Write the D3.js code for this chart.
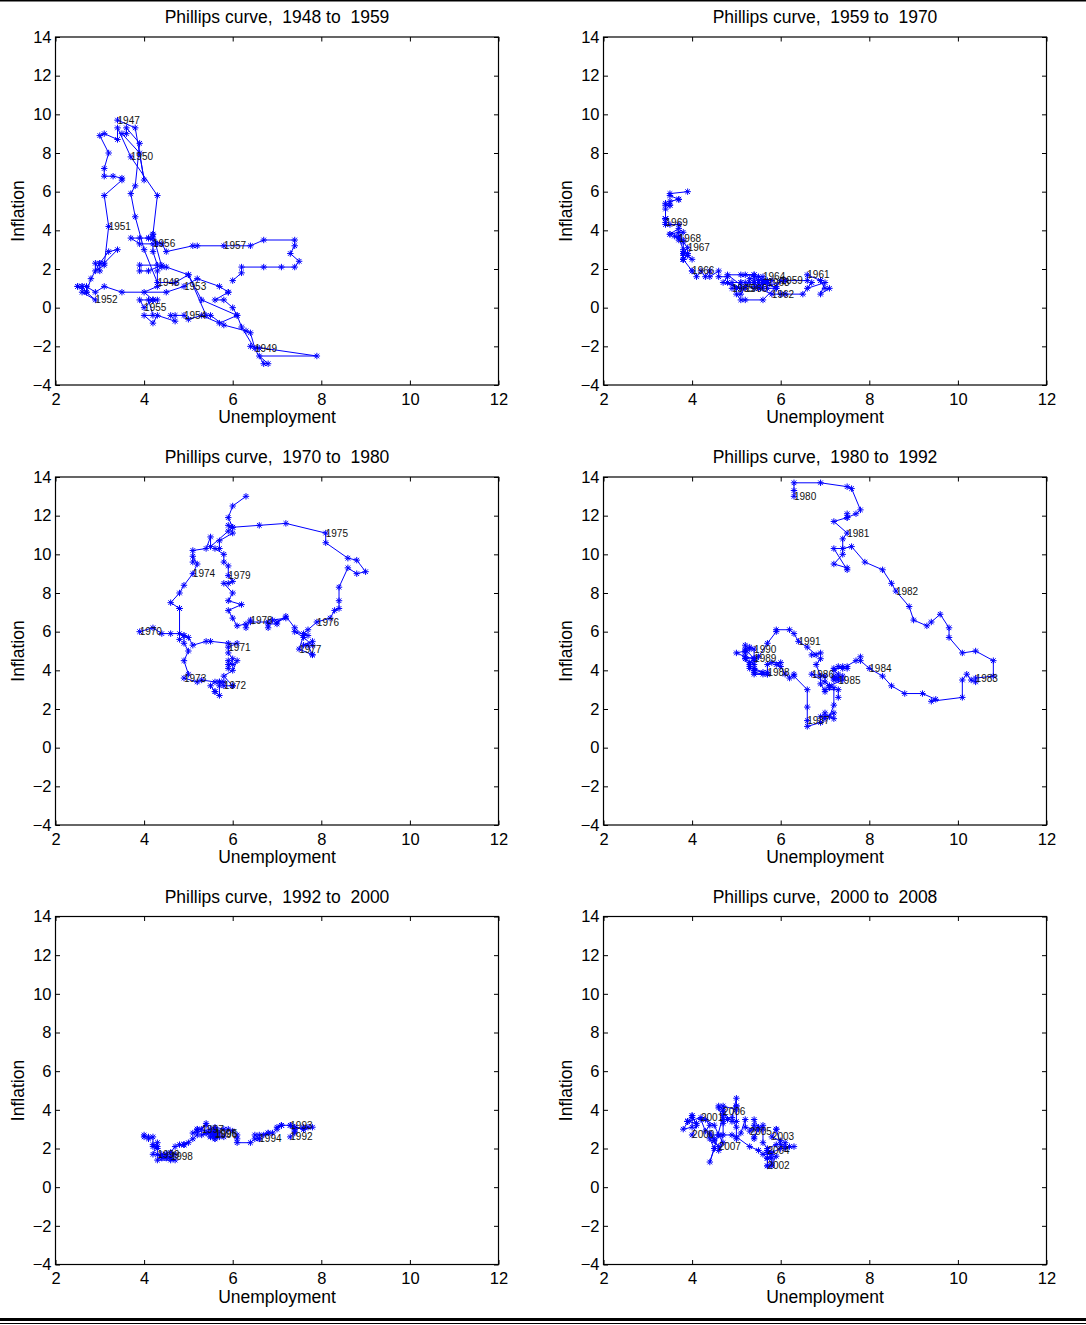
<!DOCTYPE html>
<html lang="en">
  <head>
    <meta charset="UTF-8" />
    <title>Phillips curve</title>
    <script src="https://d3js.org/d3.v7.min.js"></script>
    <style>
      * {
        margin: 0;
        padding: 0;
      }
      body {
        background: #fff;
      }
      svg {
        display: block;
        font-family: "Liberation Sans", Arial, Helvetica, sans-serif;
      }
    </style>
  </head>

  <body>
    <div id="chart"></div>
    <script>
      // tick labels and titles
      const xTicks = [2, 4, 6, 8, 10, 12];
      const yTicks = [-4, -2, 0, 2, 4, 6, 8, 10, 12, 14];
      const titles = [
        "Phillips curve,  1948 to  1959",
        "Phillips curve,  1959 to  1970",
        "Phillips curve,  1970 to  1980",
        "Phillips curve,  1980 to  1992",
        "Phillips curve,  1992 to  2000",
        "Phillips curve,  2000 to  2008",
      ];

      // monthly unemployment (x) and inflation (y)
      const unemp1948 = [
        3.4, 3.8, 4.0, 3.9, 3.5, 3.6, 3.6, 3.9, 3.8, 3.7, 3.8, 4.0,
        4.3, 4.7, 5.0, 5.3, 6.1, 6.2, 6.7, 6.8, 6.6, 7.9, 6.4, 6.6,
        6.5, 6.4, 6.3, 5.8, 5.5, 5.4, 5.0, 4.5, 4.4, 4.2, 4.2, 4.3,
        3.7, 3.4, 3.4, 3.1, 3.0, 3.2, 3.1, 3.1, 3.3, 3.5, 3.5, 3.1,
        3.2, 3.1, 2.9, 2.9, 3.0, 3.0, 3.2, 3.4, 3.1, 3.0, 2.8, 2.7,
        2.9, 2.6, 2.6, 2.7, 2.5, 2.5, 2.6, 2.7, 2.9, 3.1, 3.5, 4.5,
        4.9, 5.2, 5.7, 5.9, 5.9, 5.6, 5.8, 6.0, 6.1, 5.7, 5.3, 5.0,
        4.9, 4.7, 4.6, 4.7, 4.3, 4.2, 4.0, 4.2, 4.1, 4.3, 4.2, 4.2,
        4.0, 3.9, 4.2, 4.0, 4.3, 4.3, 4.4, 4.1, 3.9, 3.9, 4.3, 4.2,
        4.2, 3.9, 3.7, 3.9, 4.1, 4.3, 4.2, 4.1, 4.4, 4.5, 5.1, 5.2,
        5.8, 6.4, 6.7, 7.4, 7.4, 7.3, 7.5, 7.4, 7.1, 6.7, 6.2, 6.2,
        6.0,
      ];
      const infl1948 = [
        9.7, 9.3, 6.6, 8.0, 9.0, 9.0, 9.3, 8.5, 6.3, 5.9, 4.7, 3.0,
        1.3, 1.3, 1.7, 0.4, -0.4, -1.0, -2.9, -2.9, -2.5, -2.5, -2.0, -2.1,
        -2.1, -1.3, -1.2, -0.9, -0.4, -0.4, 1.7, 2.1, 2.1, 3.8, 3.8, 5.8,
        7.8, 9.3, 8.7, 9.0, 8.9, 8.0, 7.2, 6.8, 6.8, 6.7, 6.6, 5.8,
        4.2, 2.2, 1.9, 2.3, 1.9, 2.3, 2.9, 3.0, 2.3, 2.3, 1.5, 0.8,
        0.4, 0.8, 1.1, 0.8, 1.1, 1.1, 1.1, 1.1, 0.8, 1.1, 0.8, 0.8,
        1.1, 1.5, 1.1, 0.8, 0.8, 0.4, 0.4, 0.0, -0.4, -0.8, -0.4, -0.6,
        -0.4, -0.4, -0.4, -0.7, -0.4, -0.8, -0.4, -0.4, 0.4, 0.4, 0.4, 0.4,
        0.0, 0.4, 0.4, 0.8, 1.1, 1.9, 2.2, 1.9, 1.9, 2.2, 2.2, 2.9,
        3.3, 3.3, 3.6, 3.6, 3.6, 3.3, 3.6, 3.6, 3.3, 2.9, 3.2, 3.2,
        3.2, 3.2, 3.5, 3.5, 3.2, 2.8, 2.4, 2.1, 2.1, 2.1, 2.1, 1.8,
        1.4,
      ];
      const labels1948 = ["1947", "1948", "1949", "1950", "1951", "1952", "1953", "1954", "1955", "1956", "1957"];

      const unemp1959 = [
        6.0, 5.9, 5.6, 5.2, 5.1, 5.0, 5.1, 5.2, 5.5, 5.7, 5.8, 5.3,
        5.2, 4.8, 5.4, 5.2, 5.1, 5.4, 5.5, 5.6, 5.5, 6.1, 6.1, 6.6,
        6.6, 6.9, 6.9, 7.0, 7.1, 6.9, 7.0, 6.6, 6.7, 6.5, 6.1, 6.0,
        5.8, 5.5, 5.6, 5.6, 5.5, 5.5, 5.4, 5.7, 5.6, 5.4, 5.7, 5.5,
        5.7, 5.9, 5.7, 5.7, 5.9, 5.6, 5.6, 5.4, 5.5, 5.5, 5.7, 5.5,
        5.6, 5.4, 5.4, 5.3, 5.1, 5.2, 4.9, 5.0, 5.1, 5.1, 4.8, 5.0,
        4.9, 5.1, 4.7, 4.8, 4.6, 4.6, 4.4, 4.4, 4.3, 4.2, 4.1, 4.0,
        4.0, 3.8, 3.8, 3.8, 3.9, 3.8, 3.8, 3.8, 3.7, 3.7, 3.6, 3.8,
        3.9, 3.8, 3.8, 3.8, 3.8, 3.9, 3.8, 3.8, 3.8, 4.0, 3.9, 3.8,
        3.7, 3.8, 3.7, 3.5, 3.5, 3.7, 3.7, 3.5, 3.4, 3.4, 3.4, 3.4,
        3.4, 3.4, 3.4, 3.4, 3.4, 3.5, 3.5, 3.5, 3.7, 3.7, 3.5, 3.5,
        3.9,
      ];
      const infl1959 = [
        1.4, 1.1, 0.4, 0.4, 0.4, 0.7, 0.7, 1.1, 1.1, 1.4, 1.4, 1.5,
        1.0, 1.7, 1.7, 1.7, 1.7, 1.7, 1.4, 1.4, 1.0, 1.4, 1.4, 1.4,
        1.7, 1.4, 1.4, 1.0, 1.0, 0.7, 1.3, 1.0, 1.3, 0.7, 0.7, 0.7,
        0.7, 1.0, 1.0, 1.3, 1.3, 1.3, 1.0, 1.3, 1.3, 1.3, 1.3, 1.3,
        1.3, 1.0, 1.3, 1.0, 1.0, 1.3, 1.3, 1.3, 1.0, 1.3, 1.3, 1.6,
        1.6, 1.6, 1.3, 1.3, 1.3, 1.3, 1.3, 1.0, 1.3, 1.0, 1.3, 1.0,
        1.0, 1.0, 1.3, 1.6, 1.6, 1.9, 1.6, 1.9, 1.6, 1.9, 1.6, 1.9,
        1.9, 2.5, 2.5, 2.8, 2.8, 2.5, 2.8, 3.5, 3.5, 3.7, 3.7, 3.4,
        3.1, 2.8, 2.8, 2.5, 2.8, 2.8, 2.8, 2.8, 2.8, 2.5, 2.7, 3.0,
        3.6, 3.9, 3.9, 3.8, 3.8, 4.1, 4.3, 4.3, 4.3, 4.6, 4.6, 4.6,
        4.4, 4.6, 5.1, 5.4, 5.3, 5.3, 5.3, 5.5, 5.6, 5.6, 5.8, 5.9,
        6.0,
      ];
      const labels1959 = ["1959", "1960", "1961", "1962", "1963", "1964", "1965", "1966", "1967", "1968", "1969"];

      const unemp1970 = [
        3.9, 4.2, 4.4, 4.6, 4.8, 4.9, 5.0, 5.1, 5.4, 5.5, 5.9, 6.1,
        5.9, 5.9, 6.0, 5.9, 5.9, 5.9, 6.0, 6.1, 6.0, 5.8, 6.0, 6.0,
        5.8, 5.7, 5.8, 5.7, 5.7, 5.7, 5.6, 5.6, 5.5, 5.6, 5.3, 5.2,
        4.9, 5.0, 4.9, 5.0, 4.9, 4.9, 4.8, 4.8, 4.8, 4.6, 4.8, 4.9,
        5.1, 5.2, 5.1, 5.1, 5.1, 5.4, 5.5, 5.5, 5.9, 6.0, 6.6, 7.2,
        8.1, 8.1, 8.6, 8.8, 9.0, 8.8, 8.6, 8.4, 8.4, 8.4, 8.3, 8.2,
        7.9, 7.7, 7.6, 7.7, 7.4, 7.6, 7.8, 7.8, 7.6, 7.7, 7.8, 7.8,
        7.5, 7.6, 7.4, 7.2, 7.0, 7.2, 6.9, 7.0, 6.8, 6.8, 6.8, 6.4,
        6.4, 6.3, 6.3, 6.1, 6.0, 5.9, 6.2, 5.9, 6.0, 5.8, 5.9, 6.0,
        5.9, 5.9, 5.8, 5.8, 5.6, 5.7, 5.7, 6.0, 5.9, 6.0, 5.9, 6.0,
        6.3,
      ];
      const infl1970 = [
        6.0, 6.2, 5.9, 5.9, 5.9, 5.8, 5.7, 5.3, 5.5, 5.5, 5.4, 5.4,
        5.2, 4.9, 4.6, 4.1, 4.3, 4.5, 4.3, 4.5, 4.0, 3.7, 3.2, 3.2,
        3.2, 3.4, 3.4, 3.4, 3.2, 2.7, 2.9, 2.9, 3.2, 3.4, 3.5, 3.4,
        3.6, 3.8, 4.5, 5.0, 5.4, 5.8, 5.6, 7.2, 7.2, 7.5, 8.0, 8.4,
        9.0, 9.5, 9.9, 9.6, 10.2, 10.3, 10.9, 10.4, 11.2, 11.4, 11.5, 11.6,
        11.1, 10.6, 9.8, 9.7, 9.1, 9.0, 9.3, 8.3, 7.6, 7.2, 7.1, 6.7,
        6.5, 6.1, 5.9, 5.8, 6.0, 5.7, 5.3, 5.5, 5.3, 5.3, 4.8, 4.8,
        5.1, 5.8, 6.2, 6.8, 6.5, 6.7, 6.6, 6.4, 6.4, 6.2, 6.5, 6.5,
        6.6, 6.2, 6.4, 6.3, 6.7, 7.1, 7.4, 7.6, 8.0, 8.5, 8.5, 8.6,
        8.9, 9.4, 9.6, 10.0, 10.3, 10.3, 10.7, 11.1, 11.5, 11.4, 11.9, 12.5,
        13.0,
      ];
      const labels1970 = ["1970", "1971", "1972", "1973", "1974", "1975", "1976", "1977", "1978", "1979"];

      const unemp1980 = [
        6.3, 6.3, 6.3, 6.9, 7.5, 7.6, 7.8, 7.7, 7.5, 7.5, 7.5, 7.2,
        7.5, 7.4, 7.4, 7.2, 7.5, 7.5, 7.2, 7.4, 7.6, 7.9, 8.3, 8.5,
        8.6, 8.9, 9.0, 9.3, 9.4, 9.6, 9.8, 9.8, 10.1, 10.4, 10.8, 10.8,
        10.4, 10.4, 10.3, 10.2, 10.1, 10.1, 9.4, 9.5, 9.2, 8.8, 8.5, 8.3,
        8.0, 7.8, 7.8, 7.7, 7.4, 7.2, 7.5, 7.5, 7.3, 7.4, 7.2, 7.3,
        7.3, 7.2, 7.2, 7.3, 7.2, 7.4, 7.4, 7.1, 7.1, 7.1, 7.0, 7.0,
        6.7, 7.2, 7.2, 7.1, 7.2, 7.2, 7.0, 6.9, 7.0, 7.0, 6.9, 6.6,
        6.6, 6.6, 6.6, 6.3, 6.3, 6.2, 6.1, 6.0, 5.9, 6.0, 5.8, 5.7,
        5.7, 5.7, 5.7, 5.4, 5.6, 5.4, 5.4, 5.6, 5.4, 5.4, 5.3, 5.3,
        5.4, 5.2, 5.0, 5.2, 5.2, 5.3, 5.2, 5.2, 5.3, 5.3, 5.4, 5.4,
        5.4, 5.3, 5.2, 5.4, 5.4, 5.2, 5.5, 5.7, 5.9, 5.9, 6.2, 6.3,
        6.4, 6.6, 6.8, 6.7, 6.9, 6.9, 6.8, 6.9, 6.9, 7.0, 7.0, 7.3,
        7.3,
      ];
      const infl1980 = [
        13.0, 13.3, 13.7, 13.7, 13.5, 13.4, 12.3, 12.1, 11.9, 12.1, 11.9, 11.7,
        11.1, 10.8, 10.0, 9.5, 9.3, 9.2, 10.3, 10.3, 10.4, 9.6, 9.2, 8.5,
        8.1, 7.3, 6.6, 6.3, 6.5, 6.9, 6.2, 5.7, 4.9, 5.0, 4.5, 3.7,
        3.6, 3.4, 3.5, 3.8, 3.5, 2.6, 2.4, 2.5, 2.8, 2.8, 3.2, 3.7,
        4.1, 4.5, 4.7, 4.5, 4.1, 4.1, 4.1, 4.2, 4.2, 4.2, 4.0, 3.8,
        3.5, 3.5, 3.6, 3.6, 3.7, 3.7, 3.5, 3.2, 3.1, 3.2, 3.4, 3.7,
        3.8, 3.1, 2.2, 1.6, 1.5, 1.8, 1.6, 1.6, 1.8, 1.5, 1.3, 1.1,
        1.4, 2.1, 3.0, 3.7, 3.8, 3.6, 3.8, 4.2, 4.3, 4.4, 4.4, 4.3,
        3.9, 3.8, 3.8, 3.8, 3.8, 3.9, 4.0, 3.9, 4.1, 4.1, 4.1, 4.3,
        4.6, 4.7, 4.9, 5.0, 5.3, 5.1, 4.9, 4.6, 4.2, 4.4, 4.6, 4.5,
        5.1, 5.2, 5.1, 4.6, 4.3, 4.6, 4.7, 5.4, 6.0, 6.1, 6.1, 5.9,
        5.5, 5.2, 4.8, 4.8, 4.9, 4.6, 4.3, 3.7, 3.3, 2.9, 3.0, 3.0,
        2.6,
      ];
      const labels1980 = ["1980", "1981", "1982", "1983", "1984", "1985", "1986", "1987", "1988", "1989", "1990", "1991"];

      const unemp1992 = [
        7.3, 7.4, 7.4, 7.4, 7.6, 7.8, 7.7, 7.6, 7.6, 7.3, 7.4, 7.4,
        7.3, 7.1, 7.0, 7.1, 7.1, 7.0, 6.9, 6.8, 6.7, 6.8, 6.6, 6.5,
        6.6, 6.6, 6.5, 6.4, 6.1, 6.1, 6.1, 6.0, 5.9, 5.8, 5.6, 5.5,
        5.6, 5.4, 5.4, 5.8, 5.6, 5.6, 5.7, 5.7, 5.6, 5.5, 5.6, 5.6,
        5.6, 5.5, 5.5, 5.6, 5.6, 5.3, 5.5, 5.1, 5.2, 5.2, 5.4, 5.4,
        5.3, 5.2, 5.2, 5.1, 4.9, 5.0, 4.9, 4.8, 4.9, 4.7, 4.6, 4.7,
        4.6, 4.6, 4.7, 4.3, 4.4, 4.5, 4.5, 4.5, 4.6, 4.5, 4.4, 4.4,
        4.3, 4.4, 4.2, 4.3, 4.2, 4.3, 4.3, 4.2, 4.2, 4.1, 4.1, 4.0,
        4.0,
      ];
      const infl1992 = [
        2.6, 2.8, 3.1, 3.1, 3.0, 3.1, 3.1, 3.1, 3.0, 3.2, 3.0, 2.9,
        3.2, 3.2, 3.1, 3.2, 3.2, 3.0, 2.8, 2.8, 2.7, 2.8, 2.7, 2.7,
        2.5, 2.5, 2.5, 2.3, 2.3, 2.5, 2.7, 2.9, 3.0, 2.6, 2.6, 2.6,
        2.8, 2.8, 2.8, 3.0, 3.1, 3.0, 2.8, 2.6, 2.5, 2.8, 2.6, 2.5,
        2.7, 2.6, 2.8, 2.9, 2.9, 2.7, 3.0, 2.8, 3.0, 2.9, 3.2, 3.3,
        3.0, 3.0, 2.7, 2.5, 2.2, 2.3, 2.2, 2.2, 2.2, 2.1, 1.8, 1.7,
        1.6, 1.4, 1.4, 1.4, 1.7, 1.7, 1.7, 1.6, 1.5, 1.5, 1.5, 1.6,
        1.7, 1.6, 1.7, 2.3, 2.1, 2.0, 2.1, 2.2, 2.6, 2.5, 2.6, 2.6,
        2.7,
      ];
      const labels1992 = ["1992", "1993", "1994", "1995", "1996", "1997", "1998", "1999"];

      const unemp2000 = [
        4.0, 4.1, 4.0, 3.8, 4.0, 4.0, 4.0, 4.1, 3.9, 3.9, 3.9, 3.9,
        4.2, 4.2, 4.3, 4.4, 4.3, 4.5, 4.6, 4.9, 5.0, 5.3, 5.5, 5.7,
        5.7, 5.7, 5.7, 5.9, 5.8, 5.8, 5.8, 5.7, 5.7, 5.7, 5.9, 6.0,
        5.8, 5.9, 5.9, 6.0, 6.1, 6.3, 6.2, 6.1, 6.1, 6.0, 5.8, 5.7,
        5.7, 5.6, 5.8, 5.6, 5.6, 5.6, 5.5, 5.4, 5.4, 5.5, 5.4, 5.4,
        5.3, 5.4, 5.2, 5.2, 5.1, 5.0, 5.0, 4.9, 5.0, 5.0, 5.0, 4.9,
        4.7, 4.8, 4.7, 4.7, 4.6, 4.6, 4.7, 4.7, 4.5, 4.4, 4.5, 4.4,
        4.6, 4.5, 4.4, 4.5, 4.4, 4.6, 4.7, 4.6, 4.7, 4.7, 4.7, 5.0,
        5.0,
      ];
      const infl2000 = [
        2.7, 3.2, 3.7, 3.0, 3.1, 3.7, 3.6, 3.3, 3.4, 3.4, 3.4, 3.4,
        3.6, 3.5, 2.9, 3.2, 3.5, 3.2, 2.7, 2.7, 2.6, 2.1, 1.9, 1.5,
        1.1, 1.1, 1.5, 1.6, 1.2, 1.1, 1.5, 1.8, 1.5, 2.0, 2.2, 2.4,
        2.6, 3.0, 3.0, 2.2, 2.0, 2.1, 2.1, 2.1, 2.3, 2.0, 1.8, 1.9,
        1.9, 1.7, 1.7, 2.3, 3.0, 3.2, 3.0, 2.6, 2.5, 3.1, 3.5, 3.2,
        2.9, 3.0, 3.1, 3.5, 2.8, 2.5, 3.1, 3.6, 4.6, 4.2, 3.4, 3.4,
        3.9, 3.5, 3.3, 3.5, 4.1, 4.2, 4.0, 3.7, 2.0, 1.3, 2.0, 2.5,
        2.1, 2.4, 2.8, 2.5, 2.7, 2.7, 2.3, 1.9, 2.7, 3.5, 4.2, 4.0,
        4.2,
      ];
      const labels2000 = ["2000", "2001", "2002", "2003", "2004", "2005", "2006", "2007"];

      const panels = [
        { u: unemp1948, p: infl1948, labels: labels1948 },
        { u: unemp1959, p: infl1959, labels: labels1959 },
        { u: unemp1970, p: infl1970, labels: labels1970 },
        { u: unemp1980, p: infl1980, labels: labels1980 },
        { u: unemp1992, p: infl1992, labels: labels1992 },
        { u: unemp2000, p: infl2000, labels: labels2000 },
      ];

      const width = 1086;
      const height = 1325;
      const colLeft = [55.5, 603.5];
      const rowTop = [37, 477, 916.5];
      const plotW = 443;
      const plotH = 348;
      const blue = "#0000ff";

      let svg = d3
        .select("#chart")
        .append("svg")
        .attr("width", width)
        .attr("height", height);

      svg.append("rect").attr("width", width).attr("height", height).attr("fill", "#fff");

      // frame lines at top and bottom of the page
      svg.append("rect").attr("x", 0).attr("y", 0).attr("width", width).attr("height", 1.5).attr("fill", "#000");
      svg.append("rect").attr("x", 0).attr("y", 1318).attr("width", width).attr("height", 3).attr("fill", "#000");
      svg.append("rect").attr("x", 0).attr("y", 1323).attr("width", width).attr("height", 1).attr("fill", "#000");

      // asterisk marker: plus plus cross
      const a = 3.2;
      const b = 2.3;
      const star = `M${-a},0H${a}M0,${-a}V${a}M${-b},${-b}L${b},${b}M${-b},${b}L${b},${-b}`;

      panels.forEach((panel, i) => {
        const left = colLeft[i % 2];
        const top = rowTop[Math.floor(i / 2)];

        const x = d3.scaleLinear().domain([2, 12]).range([0, plotW]);
        const y = d3.scaleLinear().domain([-4, 14]).range([plotH, 0]);

        let g = svg.append("g").attr("transform", `translate(${left},${top})`);

        const styleAxis = (sel) => {
          sel.select(".domain").remove();
          sel.attr("font-family", null).attr("font-size", 16.5);
          sel.selectAll(".tick text").attr("fill", "#000");
          sel.selectAll(".tick line").attr("stroke", "#000");
        };

        g.append("g")
          .attr("transform", `translate(0,${plotH})`)
          .call(d3.axisBottom(x).tickValues(xTicks).tickSize(-4.5).tickPadding(8).tickFormat(d3.format("d")))
          .call(styleAxis);

        g.append("g")
          .call(d3.axisLeft(y).tickValues(yTicks).tickSize(-4.5).tickPadding(4).tickFormat(d3.format("d")))
          .call(styleAxis);

        g.append("g")
          .call(d3.axisTop(x).tickValues(xTicks).tickSize(-4.5).tickFormat(""))
          .call(styleAxis);

        g.append("g")
          .attr("transform", `translate(${plotW},0)`)
          .call(d3.axisRight(y).tickValues(yTicks).tickSize(-4.5).tickFormat(""))
          .call(styleAxis);

        g.append("rect")
          .attr("width", plotW)
          .attr("height", plotH)
          .attr("fill", "none")
          .attr("stroke", "#000")
          .attr("stroke-width", 1.2);

        // titles and axis labels
        g.append("text")
          .attr("x", plotW / 2)
          .attr("y", -14)
          .attr("text-anchor", "middle")
          .attr("font-size", 17.5)
          .style("white-space", "pre")
          .attr("xml:space", "preserve")
          .text(titles[i]);

        g.append("text")
          .attr("x", plotW / 2)
          .attr("y", plotH + 38)
          .attr("text-anchor", "middle")
          .attr("font-size", 17.5)
          .text("Unemployment");

        g.append("text")
          .attr("transform", `translate(-31.5,${plotH / 2}) rotate(-90)`)
          .attr("text-anchor", "middle")
          .attr("font-size", 17.5)
          .text("Inflation");

        const pts = panel.u.map((u, k) => [u, panel.p[k]]);

        const line = d3
          .line()
          .x((d) => x(d[0]))
          .y((d) => y(d[1]));

        g.append("path")
          .datum(pts)
          .attr("d", line)
          .attr("fill", "none")
          .attr("stroke", blue)
          .attr("stroke-width", 1);

        g.selectAll("path.mark")
          .data(pts)
          .join("path")
          .attr("class", "mark")
          .attr("transform", (d) => `translate(${x(d[0])},${y(d[1])})`)
          .attr("d", star)
          .attr("fill", "none")
          .attr("stroke", blue)
          .attr("stroke-width", 1);

        // year labels at each January
        g.selectAll("text.year")
          .data(panel.labels)
          .join("text")
          .attr("class", "year")
          .attr("x", (d, k) => x(pts[k * 12][0]))
          .attr("y", (d, k) => y(pts[k * 12][1]))
          .attr("dy", "0.35em")
          .attr("font-size", 10)
          .attr("fill", "#111")
          .text((d) => d);
      });
    </script>
  </body>
</html>
